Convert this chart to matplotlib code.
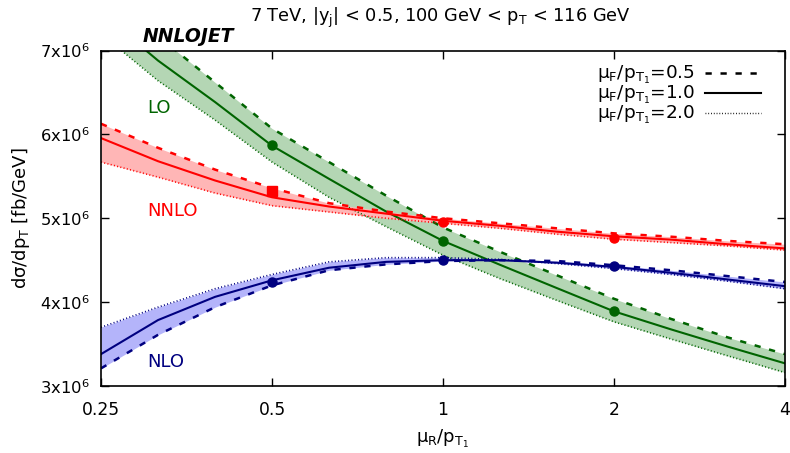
import numpy as np
import matplotlib
matplotlib.use('Agg')
import matplotlib.pyplot as plt
from matplotlib.lines import Line2D
from matplotlib.ticker import FixedLocator, NullLocator

plt.rcParams['mathtext.default'] = 'regular'
plt.rcParams['font.family'] = 'DejaVu Sans'

# mu_R / pT1 grid (steps of 2^(1/3))
mu_r = [0.25, 0.315, 0.397, 0.5, 0.63, 0.794, 1.0, 1.26, 1.587, 2.0, 2.52, 3.17, 4.0]

# cross sections in units of 1e6 fb/GeV; suffix = mu_F/pT1 (05 -> 0.5, 20 -> 2.0)
lo_c  = [7.45, 6.88, 6.385, 5.865, 5.47, 5.08, 4.73, 4.445, 4.167, 3.89, 3.675, 3.47, 3.27]
lo_05 = [7.75, 7.17, 6.62, 6.07, 5.67, 5.27, 4.89, 4.60, 4.32, 4.04, 3.80, 3.58, 3.38]
lo_20 = [7.20, 6.64, 6.17, 5.67, 5.25, 4.90, 4.56, 4.28, 4.02, 3.765, 3.56, 3.36, 3.16]

nlo_c  = [3.38, 3.786, 4.063, 4.26, 4.41, 4.48, 4.50, 4.50, 4.47, 4.42, 4.35, 4.27, 4.19]
nlo_05 = [3.21, 3.61, 3.94, 4.20, 4.38, 4.45, 4.49, 4.50, 4.49, 4.44, 4.38, 4.31, 4.24]
nlo_20 = [3.70, 3.94, 4.16, 4.33, 4.48, 4.53, 4.53, 4.51, 4.46, 4.40, 4.33, 4.25, 4.16]

nnlo_c  = [5.956, 5.68, 5.45, 5.25, 5.14, 5.055, 4.97, 4.91, 4.84, 4.785, 4.745, 4.69, 4.64]
nnlo_05 = [6.127, 5.84, 5.58, 5.36, 5.18, 5.08, 5.00, 4.94, 4.88, 4.82, 4.78, 4.73, 4.69]
nnlo_20 = [5.67, 5.49, 5.30, 5.15, 5.075, 5.00, 4.94, 4.88, 4.81, 4.75, 4.71, 4.67, 4.62]

# separate points
pt_x = [0.5, 1.0, 2.0]
lo_pts = [5.87, 4.726, 3.89]
nlo_pts = [4.24, 4.50, 4.43]
nnlo_pts = [5.33, 4.96, 4.77]

W, H = 790, 453
fig = plt.figure(figsize=(W / 100, H / 100), dpi=100)
ax = fig.add_axes([101 / W, 1 - 386 / H, 684 / W, 335.5 / H])

x = np.array(mu_r)
series = [
    (lo_c, lo_05, lo_20, '#006400', '#b4d6b4', lo_pts, ['o', 'o', 'o']),
    (nnlo_c, nnlo_05, nnlo_20, '#ff0000', '#ffb6b6', nnlo_pts, ['s', 'o', 'o']),
    (nlo_c, nlo_05, nlo_20, '#000080', '#b4b4fa', nlo_pts, ['o', 'o', 'o']),
]
for c, up, dn, col, fcol, pts, mk in series:
    c = np.array(c) * 1e6
    up = np.array(up) * 1e6
    dn = np.array(dn) * 1e6
    ax.fill_between(x, np.minimum(up, dn), np.maximum(up, dn), color=fcol, lw=0)
    ax.plot(x, up, color=col, lw=1.8, ls=(0, (2.5, 3.5)))
    ax.plot(x, dn, color=col, lw=1.2, ls=(0, (0.6, 1.4)))
    ax.plot(x, c, color=col, lw=1.5)
    for px, py, m in zip(pt_x, pts, mk):
        ax.plot(px, py * 1e6, marker=m, color=col, ms=6.5, ls='none')

ax.set_xscale('log')
ax.set_xlim(0.25, 4)
ax.set_ylim(3e6, 7e6)
ax.xaxis.set_major_locator(FixedLocator([0.25, 0.5, 1, 2, 4]))
ax.xaxis.set_minor_locator(NullLocator())
ax.set_xticklabels(['0.25', '0.5', '1', '2', '4'])
ax.set_yticks([3e6, 4e6, 5e6, 6e6, 7e6])
ax.set_yticklabels(['3x10$^6$', '4x10$^6$', '5x10$^6$', '6x10$^6$', '7x10$^6$'])
ax.tick_params(direction='in', top=True, right=True, length=6, width=1)
ax.tick_params(axis='y', pad=8, labelsize=11.8)
ax.tick_params(axis='x', pad=10.5, labelsize=12.3)
for s in ax.spines.values():
    s.set_linewidth(1.2)

ax.set_xlabel('μ$_R$/p$_{T_1}$', fontsize=13, labelpad=7)
ax.set_ylabel('dσ/dp$_T$ [fb/GeV]', fontsize=13, labelpad=6)

fig.text(440 / W, 1 - 18 / H, '7 TeV, |y$_j$| < 0.5, 100 GeV < p$_T$ < 116 GeV',
         ha='center', va='center', fontsize=12.8)
fig.text(143 / W, 1 - 36 / H, 'NNLOJET', ha='left', va='center',
         fontsize=13.5, fontweight='bold', fontstyle='italic')
fig.text(147 / W, 1 - 108 / H, 'LO', color='#006400', ha='left', va='center', fontsize=13)
fig.text(147 / W, 1 - 211 / H, 'NNLO', color='#ff0000', ha='left', va='center', fontsize=13)
fig.text(147 / W, 1 - 362 / H, 'NLO', color='#000080', ha='left', va='center', fontsize=13)

handles = [
    Line2D([], [], color='black', lw=1.8, ls=(0, (2.5, 3.5))),
    Line2D([], [], color='black', lw=1.5),
    Line2D([], [], color='black', lw=1.0, ls=(0, (0.6, 1.4))),
]
labels = ['μ$_F$/p$_{T_1}$=0.5', 'μ$_F$/p$_{T_1}$=1.0', 'μ$_F$/p$_{T_1}$=2.0']
ax.legend(handles, labels, loc='upper right', bbox_to_anchor=(768 / W, 1 - 57 / H),
          bbox_transform=fig.transFigure, frameon=False, markerfirst=False,
          fontsize=13.3, handlelength=3.0, handletextpad=0.55, labelspacing=-0.12,
          borderaxespad=0)

fig.savefig('out.png', dpi=100)
